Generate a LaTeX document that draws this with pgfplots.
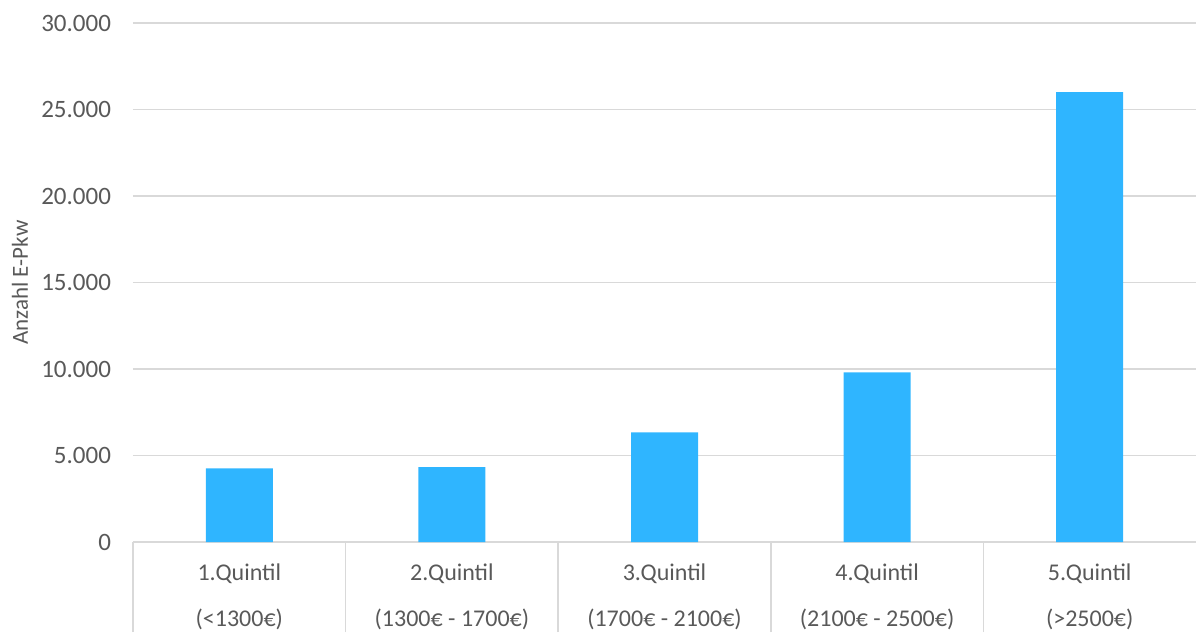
\documentclass[border=0pt]{standalone}
\usepackage{fontspec}
\setmainfont{Carlito}
\usepackage{pgfplots}
\pgfplotsset{compat=1.18}
\definecolor{barblue}{HTML}{2FB5FF}
\definecolor{gridgray}{HTML}{D9D9D9}
\definecolor{textgray}{HTML}{595959}
\begin{document}
\begin{tikzpicture}
\begin{axis}[
  scale only axis,
  width=531.5pt, height=259.5pt,
  xmin=-0.5, xmax=4.5,
  ymin=0, ymax=30000,
  ytick={0,5000,10000,15000,20000,25000,30000},
  scaled y ticks=false,
  ymajorgrids,
  grid style={gridgray, line width=0.8pt},
  axis x line*=bottom, axis y line*=left,
  x axis line style={gridgray, line width=0.8pt},
  y axis line style={draw=none},
  tick pos=left,
  major tick length=0pt,
  xtick=data,
  xticklabels={{1.Quintil\\[8.5pt](<1300€)},{2.Quintil\\[8.5pt](1300€ - 1700€)},{3.Quintil\\[8.5pt](1700€ - 2100€)},{4.Quintil\\[8.5pt](2100€ - 2500€)},{5.Quintil\\[8.5pt](>2500€)}},
  xticklabel style={align=center, anchor=north, yshift=-7.5pt, font=\fontsize{12}{14.4}\selectfont, text=textgray},
  extra x ticks={-0.5,0.5,1.5,2.5,3.5},
  extra x tick labels={},
  extra x tick style={major tick length=45pt, tick align=outside, tick style={gridgray, line width=0.8pt}},
  yticklabel={\pgfmathprintnumber[fixed,1000 sep={.}]{\tick}},
  /pgf/number format/assume math mode=true,
  yticklabel style={anchor=east, xshift=-7.5pt, font=\fontsize{12.5}{15}\selectfont, text=textgray},
  ylabel={Anzahl E-Pkw},
  ylabel style={at={(axis description cs:-0.1063,0.5)}, anchor=center, rotate=0, font=\fontsize{11.5}{13.8}\selectfont, text=textgray},
  clip=false,
]
\addplot[ybar, bar width=33.5pt, fill=barblue, draw=none] coordinates {
  (0,4250) (1,4330) (2,6330) (3,9800) (4,26000)
};
\end{axis}
\pgfresetboundingbox
\path[use as bounding box] ([shift={(-66.5pt,-45pt)}]current axis.south west) rectangle ([shift={(0pt,11.5pt)}]current axis.north east);
\end{tikzpicture}
\end{document}
